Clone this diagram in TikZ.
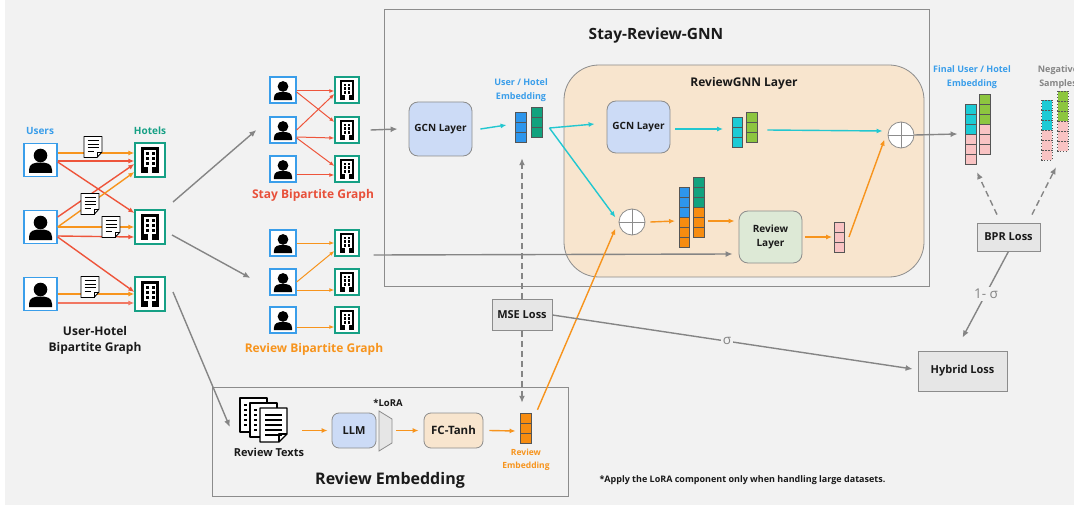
\documentclass[tikz,border=0pt]{standalone}
\usepackage{fontspec}
\setmainfont{Open Sans}
\usetikzlibrary{arrows.meta,calc}
\definecolor{bg}{HTML}{F2F2F2}
\definecolor{txt}{HTML}{1A1A1A}
\definecolor{ured}{HTML}{EE553B}
\definecolor{stayred}{HTML}{E8503A}
\definecolor{uorange}{HTML}{F7941D}
\definecolor{ucyan}{HTML}{22C7D0}
\definecolor{ublue}{HTML}{3A9EEA}
\definecolor{uteal}{HTML}{16A085}
\definecolor{ugray}{HTML}{858585}
\definecolor{bblue}{HTML}{2E96EC}
\definecolor{bteal}{HTML}{12A27E}
\definecolor{bcyan}{HTML}{1CCBD5}
\definecolor{bgreen}{HTML}{8DC63F}
\definecolor{bpink}{HTML}{F9C3C3}
\definecolor{borange}{HTML}{F78C10}
\definecolor{gcnfill}{HTML}{CCDBF6}
\definecolor{peach}{HTML}{F8E5CE}
\definecolor{rlfill}{HTML}{DDE9D6}
\definecolor{lossfill}{HTML}{E6E6E6}
\definecolor{boxline}{HTML}{8C8C8C}
\definecolor{cellline}{HTML}{555555}
\tikzset{
  userbox/.style={draw=ublue, line width=1.3pt, fill=white, minimum width=#1, minimum height=#1, inner sep=0pt},
  hotelbox/.style 2 args={draw=uteal, line width=1.3pt, fill=white, minimum width=#1, minimum height=#2, inner sep=0pt},
  redarr/.style={draw=ured, line width=1.4pt, -{Latex[length=6pt,width=5pt]}},
  orarr/.style={draw=uorange, line width=1.4pt, -{Latex[length=6pt,width=5pt]}},
  redthin/.style={draw=ured, line width=1pt, -{Latex[length=5pt,width=4pt]}},
  orthin/.style={draw=uorange, line width=1pt, -{Latex[length=5pt,width=4pt]}},
  cyarr/.style={draw=ucyan, line width=1.4pt, -{Latex[length=6pt,width=5pt]}},
  oarr/.style={draw=uorange, line width=1.4pt, -{Latex[length=6pt,width=5pt]}},
  garr/.style={draw=ugray, line width=1.4pt, -{Latex[length=7pt,width=6pt]}},
  gdash/.style={draw=ugray, line width=1.4pt, dash pattern=on 6pt off 4pt, -{Latex[length=7pt,width=6pt]}},
  layerbox/.style={draw=boxline, line width=0.8pt, rounded corners=9pt, align=center, font=\bfseries\fontsize{10}{13}\selectfont},
  lossbox/.style={draw=boxline, fill=lossfill, line width=0.8pt, align=center, font=\bfseries\fontsize{11}{13}\selectfont},
  pluscirc/.style={circle, draw=boxline, fill=white, line width=0.8pt, minimum size=26pt, inner sep=0pt},
  siglab/.style={fill=bg, text=ugray, inner sep=2pt, font=\mdseries\fontsize{13.5}{14}\selectfont},
  cellst/.style={draw=cellline, line width=0.6pt},
  negst/.style={draw=cellline, line width=0.6pt, dash pattern=on 1.5pt off 1.5pt}
}
\newcommand{\usericon}[4]{%
  \node[userbox=#4] (#1) at (#2,#3) {};
  \begin{scope}[shift={(#1.center)}, scale=#4/33]
    \fill[black] (0,-4.5) circle (6.8);
    \fill[black] (-11.5,13) -- (-11.5,10) .. controls (-11.5,3.5) and (-6,2.5) .. (0,2.5) .. controls (6,2.5) and (11.5,3.5) .. (11.5,10) -- (11.5,13) -- cycle;
  \end{scope}}
\newcommand{\hotelicon}[5]{%
  \node[hotelbox={#4}{#5}] (#1) at (#2,#3) {};
  \begin{scope}[shift={(#1.center)}, scale=#5/34]
    \fill[black] (-9,-13) rectangle (9,13);
    \fill[white] (-6.3,-10.3) rectangle (6.3,10);
    \foreach \yy in {-8.3,-3.3,1.7} {\fill[black] (-4.5,\yy) rectangle (-1.5,\yy+3); \fill[black] (1.5,\yy) rectangle (4.5,\yy+3);}
    \fill[black] (-6.3,7) rectangle (6.3,10);
    \fill[white] (-2,7) rectangle (2,13);
  \end{scope}}
\newcommand{\docicon}[3]{%
  \node[inner sep=0pt, minimum width=19pt, minimum height=21pt] (#1) at (#2,#3) {};
  \begin{scope}[shift={(#1.center)}]
    \filldraw[fill=white, draw=black, line width=0.9pt, line join=round] (-9,-10.5) -- (9,-10.5) -- (9,5) -- (4,10.5) -- (-9,10.5) -- cycle;
    \draw[line width=0.9pt, line join=round] (9,5) -- (4,5) -- (4,10.5);
    \foreach \yy in {-6.5,-3,0.5} {\draw[line width=0.9pt] (-5.5,\yy) -- (5.5,\yy);}
    \draw[line width=0.9pt] (-5.5,4) -- (1,4);
  \end{scope}}
\newcommand{\cellbar}[6]{%
  \node[inner sep=0pt, minimum width=10.5pt, minimum height=#4*10pt] (#1) at (#2,#3+#4*5) {};
  \foreach \cl [count=\ci] in {#5} {\draw[#6, fill=\cl] (#2-5.25,#3+10*\ci-10) rectangle (#2+5.25,#3+10*\ci);}}
\newcommand{\revpage}[2]{%
  \filldraw[fill=white, draw=black, line width=1.2pt, line join=round] (#1,#2) rectangle ++(27,34);
  \foreach \k in {0,...,4} {\draw[line width=1.1pt] (#1+4,#2+7+5*\k) -- ++(3,0) (#1+10,#2+7+5*\k) -- ++(13,0);}}
\begin{document}
\begin{tikzpicture}[x=1pt,y=-1pt]
\tikzset{every node/.append style={text=txt, font=\bfseries\fontsize{9}{11}\selectfont}}
\useasboundingbox (0,0) rectangle (1074,508);
\fill[white] (0,0) rectangle (1074,508);
\fill[bg] (5,0) rectangle (1074,505);

% big frames
\draw[boxline, line width=1pt] (384,10) rectangle (929,286);
\node[font=\bfseries\fontsize{15.5}{18}\selectfont] (srtitle) at (656,35) {Stay-Review-GNN};
\filldraw[fill=peach, draw=boxline, line width=0.8pt, rounded corners=35pt] (564,65) rectangle (924,277);
\node[font=\bfseries\fontsize{12}{14}\selectfont] (rgtitle) at (744,83) {ReviewGNN Layer};
\draw[boxline, line width=1pt] (212,387) rectangle (568,496);
\node[font=\bfseries\fontsize{16}{19}\selectfont] (retitle) at (390,480) {Review Embedding};

% left bipartite graph
\node[text=ublue, font=\bfseries\fontsize{10}{12}\selectfont] (userslab) at (40,131) {Users};
\node[text=uteal, font=\bfseries\fontsize{10}{12}\selectfont] (hotelslab) at (150,131) {Hotels};
\usericon{u1}{40.5}{160}{33}
\usericon{u2}{40.5}{227}{33}
\usericon{u3}{40.5}{294}{33}
\hotelicon{h1}{150}{160}{30}{34}
\hotelicon{h2}{150}{227}{30}{34}
\hotelicon{h3}{150}{294}{30}{34}
\node[align=center, font=\bfseries\fontsize{12}{16}\selectfont] (uhlab) at (95,340) {User-Hotel\\Bipartite Graph};

\draw[redarr] ([yshift=-1pt]u1.east) -- ([yshift=-1pt]h1.west);
\draw[orarr] ([yshift=7pt]u1.east) -- ([yshift=7pt]h1.west);
\draw[redarr] ([yshift=-2pt]u1.east) -- ([yshift=14pt]h2.west);
\draw[redarr] ([yshift=10pt]u2.east) -- ([yshift=-4pt]h1.west);
\draw[orarr] (u2.east) -- ([yshift=-12pt]h1.west);
\draw[orarr] (u2.east) -- (h2.west);
\draw[redarr] ([yshift=-9pt]u2.east) -- ([yshift=-10pt]h2.west);
\draw[redarr] ([yshift=-10pt]u2.east) -- ([yshift=2pt]h3.west);
\draw[orarr] (u3.east) -- (h3.west);
\draw[redarr, draw=ured!80] ([yshift=-9pt]u3.east) -- ([yshift=-9pt]h3.west);
\docicon{d1}{93}{147}
\docicon{d2}{90}{204}
\docicon{d3}{111}{227}
\docicon{d4}{90}{287}

% stay bipartite graph
\usericon{su1}{283}{90}{26}
\usericon{su2}{283}{130}{26}
\usericon{su3}{283}{169}{26}
\hotelicon{sh1}{347}{90}{24}{26}
\hotelicon{sh2}{347}{130}{24}{26}
\hotelicon{sh3}{347}{169}{24}{26}
\draw[redthin] ([yshift=-1pt]su1.east) -- ([yshift=-1pt]sh1.west);
\draw[redthin] ([yshift=-2pt]su1.east) -- ([yshift=8pt]sh2.west);
\draw[redthin] (su2.east) -- ([yshift=-4pt]sh1.west);
\draw[redthin] ([yshift=-7pt]su2.east) -- ([yshift=-8pt]sh2.west);
\draw[redthin] ([yshift=-8pt]su2.east) -- ([yshift=3pt]sh3.west);
\draw[redthin] ([yshift=-6pt]su3.east) -- ([yshift=-6pt]sh3.west);
\node[text=stayred, font=\bfseries\fontsize{12}{14}\selectfont] (staylab) at (313,195) {Stay Bipartite Graph};

% review bipartite graph
\usericon{ru1}{283}{243}{26}
\usericon{ru2}{283}{282}{26}
\usericon{ru3}{283}{320}{26}
\hotelicon{rh1}{347}{243}{24}{26}
\hotelicon{rh2}{347}{282}{24}{26}
\hotelicon{rh3}{347}{320}{24}{26}
\draw[orthin] (ru1.east) -- (rh1.west);
\draw[orthin] (ru2.east) -- ([yshift=-8pt]rh1.west);
\draw[orthin] ([yshift=-8pt]ru2.east) -- ([yshift=-8pt]rh2.west);
\draw[orthin] ([yshift=-7pt]ru3.east) -- ([yshift=-7pt]rh3.west);
\node[text=uorange, font=\bfseries\fontsize{12}{14}\selectfont] (revlab) at (314,349) {Review Bipartite Graph};

% gray arrows from left graph
\coordinate (lg1) at (173,202);
\coordinate (lg2) at (172,235);
\coordinate (lg3) at (173,292);
\draw[garr] (lg1) -- ([xshift=-13pt]su2.west);
\draw[garr] (lg2) -- ([xshift=-19pt,yshift=4pt]ru2.west);

% Stay-Review-GNN contents
\node[layerbox, fill=gcnfill, minimum width=63pt, minimum height=54pt] (gcn1) at (440.5,129) {GCN Layer};
\node[text=ublue, align=center, font=\bfseries\fontsize{9}{14}\selectfont] (emblab) at (521,90) {User / Hotel\\Embedding};
\cellbar{embU}{521}{112}{3}{bblue,bblue,bblue}{cellst}
\cellbar{embI}{537}{107}{3}{bteal,bteal,bteal}{cellst}
\node[layerbox, fill=gcnfill, minimum width=63pt, minimum height=52pt] (gcn2) at (638.5,127) {GCN Layer};
\cellbar{cyb}{737.5}{117}{3}{bcyan,bcyan,bcyan}{cellst}
\cellbar{grb}{752}{112}{3}{bgreen,bgreen,bgreen}{cellst}
\node[pluscirc] (plus1) at (901,135) {};
\draw[boxline, line width=0.6pt] (plus1.north) -- (plus1.south) (plus1.west) -- (plus1.east);
\node[pluscirc] (plus2) at (632,222) {};
\draw[boxline, line width=0.6pt] (plus2.north) -- (plus2.south) (plus2.west) -- (plus2.east);
\cellbar{catA}{684.5}{187}{6}{bblue,bblue,bblue,borange,borange,borange}{cellst}
\cellbar{catB}{699}{177}{6}{bteal,bteal,bteal,borange,borange,borange}{cellst}
\node[layerbox, fill=rlfill, minimum width=63pt, minimum height=52pt, font=\bfseries\fontsize{10}{14}\selectfont] (rl) at (770.5,237) {Review\\Layer};
\cellbar{pkb}{839.5}{222}{3}{bpink,bpink,bpink}{cellst}

% final embeddings and negatives
\node[text=ublue, align=center, font=\bfseries\fontsize{9}{14}\selectfont] (finlab) at (972,77) {Final User / Hotel\\Embedding};
\cellbar{finA}{971}{104}{6}{bcyan,bcyan,bcyan,bpink,bpink,bpink}{cellst}
\cellbar{finB}{985}{94}{6}{bgreen,bgreen,bgreen,bpink,bpink,bpink}{cellst}
\node[text=ugray, align=center, font=\bfseries\fontsize{9}{14}\selectfont] (neglab) at (1058,77) {Negative\\Samples};
\cellbar{negA}{1047}{100}{6}{bcyan,bcyan,bcyan,bpink,bpink,bpink}{negst}
\cellbar{negB}{1063}{91}{6}{bgreen,bgreen,bgreen,bpink,bpink,bpink}{negst}

% losses
\node[lossbox, minimum width=60pt, minimum height=31pt] (mse) at (522,315) {MSE Loss};
\node[lossbox, minimum width=63pt, minimum height=28pt] (bpr) at (1008.5,237) {BPR Loss};
\node[lossbox, minimum width=89pt, minimum height=40pt] (hybrid) at (962.5,371) {Hybrid Loss};

% review embedding contents
\node[inner sep=0pt, minimum width=48pt, minimum height=44pt] (rtx) at (264,420) {};
\revpage{240}{398}
\revpage{250}{403}
\filldraw[fill=white, draw=black, line width=1.2pt, line join=round] (260,408) -- ++(27,0) -- ++(0,26) -- ++(-8,8) -- ++(-19,0) -- cycle;
\draw[line width=1.2pt, line join=round] (287,434) -- ++(-8,0) -- ++(0,8);
\foreach \k in {0,...,4} {\draw[line width=1.1pt] (265,415+5*\k) -- ++(17,0);}
\node[font=\bfseries\fontsize{11}{13}\selectfont] (rtxlab) at (269,452) {Review Texts};
\node[layerbox, fill=gcnfill, rounded corners=7pt, minimum width=44pt, minimum height=35pt, font=\bfseries\fontsize{11}{13}\selectfont] (llm) at (354,430.5) {LLM};
\node[inner sep=0pt, minimum width=13pt, minimum height=40pt] (lora) at (385.5,431) {};
\filldraw[fill=lossfill, draw=boxline, line width=0.8pt] (379,411) -- (392,419) -- (392,443) -- (379,451) -- cycle;
\node[font=\bfseries\fontsize{9.5}{11}\selectfont] (loralab) at (388,403) {*LoRA};
\node[layerbox, fill=peach, rounded corners=7pt, minimum width=59pt, minimum height=35pt, font=\bfseries\fontsize{11.5}{13}\selectfont] (fc) at (453.5,430.5) {FC-Tanh};
\cellbar{revemb}{526}{413}{3}{borange,borange,borange}{cellst}
\node[text=uorange, align=center, font=\bfseries\fontsize{8.5}{13}\selectfont] (revemblab) at (526,460) {Review\\Embedding};
\node[anchor=west, font=\bfseries\fontsize{9}{11}\selectfont] (note) at (596,480) {*Apply the LoRA component only when handling large datasets.};

% connectors
\draw[garr] (lg3) -- ([xshift=-10pt,yshift=-7pt]rtx.west);
\draw[garr] ([xshift=11pt]sh2.east) -- ([xshift=-11pt]gcn1.west);
\draw[garr] ([xshift=14pt,yshift=-12pt]rh1.east) -- ([xshift=-6pt,yshift=-17pt]rl.west);
\draw[cyarr] ([xshift=8pt]gcn1.east) -- ([xshift=-9pt,yshift=2pt]embU.west);
\coordinate (cysplit) at ([xshift=7pt,yshift=-6pt]embI.east);
\draw[cyarr] (cysplit) -- ([xshift=-12pt,yshift=3pt]gcn2.west);
\draw[cyarr] (cysplit) -- ([xshift=-4pt]plus2.160);
\draw[cyarr] ([xshift=5pt,yshift=-2pt]gcn2.east) -- ([xshift=-9pt,yshift=3pt]cyb.west);
\draw[cyarr] ([xshift=10pt,yshift=-3pt]grb.east) -- ([xshift=-5pt,yshift=4pt]plus1.west);
\draw[oarr] ([xshift=5pt]plus2.east) -- ([xshift=-4pt,yshift=-4pt]catA.west);
\draw[oarr] ([xshift=4pt,yshift=-14pt]catB.east) -- ([xshift=-4pt,yshift=16pt]rl.west);
\draw[oarr] ([xshift=3pt]rl.east) -- ([xshift=-2pt]pkb.west);
\draw[oarr] ([xshift=4pt]pkb.east) -- ([xshift=-4pt]plus1.200);
\draw[garr] (plus1.east) -- ([xshift=-8pt]finA.west);
\draw[oarr] ([xshift=6pt,yshift=3pt]revemb.north east) -- ([xshift=-4pt,yshift=-2pt]plus2.200);
\draw[gdash] (mse.north) -- ([yshift=-16pt]mse.north |- embU.south);
\draw[gdash] (mse.south) -- ([yshift=10pt]mse.south |- revemb.north);
\draw[gdash] ([xshift=-11.5pt,yshift=8pt]bpr.north) -- ([xshift=6pt,yshift=-8pt]finA.south);
\draw[gdash] ([xshift=23.5pt,yshift=8pt]bpr.north) -- ([xshift=9pt,yshift=-7pt]negA.south);
\draw[garr] (bpr.south) -- node[siglab, pos=0.49] {1- σ} ([yshift=13pt]hybrid.north);
\draw[garr] (mse.east) -- node[siglab, pos=0.485] {σ} ([xshift=-5pt,yshift=2pt]hybrid.west);
\draw[oarr] ($(rtx.east |- llm.west)+(14,0)$) -- ([xshift=-4pt]llm.west);
\draw[oarr] ($(lora.east |- fc.west)+(4,0)$) -- ([xshift=-5pt]fc.west);
\draw[oarr] ([xshift=6pt]fc.east) -- ([xshift=-5pt,yshift=-3pt]revemb.west);
\end{tikzpicture}
\end{document}
